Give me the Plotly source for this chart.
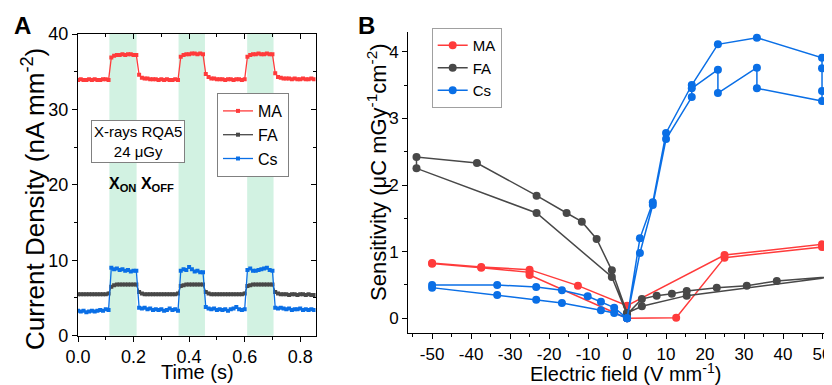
import plotly.graph_objects as go

# ---------------- Panel A data (time traces) ----------------
time_s = [0.00, 0.01, 0.02, 0.03, 0.04, 0.05, 0.06, 0.07, 0.08, 0.09,
          0.10, 0.11, 0.12, 0.13, 0.14, 0.15, 0.16, 0.17, 0.18, 0.19,
          0.20, 0.21, 0.22, 0.23, 0.24, 0.25, 0.26, 0.27, 0.28, 0.29,
          0.30, 0.31, 0.32, 0.33, 0.34, 0.35, 0.36, 0.37, 0.38, 0.39,
          0.40, 0.41, 0.42, 0.43, 0.44, 0.45, 0.46, 0.47, 0.48, 0.49,
          0.50, 0.51, 0.52, 0.53, 0.54, 0.55, 0.56, 0.57, 0.58, 0.59,
          0.60, 0.61, 0.62, 0.63, 0.64, 0.65, 0.66, 0.67, 0.68, 0.69,
          0.70, 0.71, 0.72, 0.73, 0.74, 0.75, 0.76, 0.77, 0.78, 0.79,
          0.80, 0.81, 0.82, 0.83, 0.84, 0.85]

ma_current = [33.9, 34.0, 33.9, 33.9, 34.0, 33.9, 34.0, 33.9, 33.9, 34.0, 34.0, 33.9,
              36.9, 37.1, 37.2, 37.2, 37.3, 37.2, 37.3, 37.3, 37.2, 37.2,
              34.6, 34.2, 34.1, 34.1, 34.0, 34.0, 34.0, 33.9, 34.0, 33.9, 34.0, 33.9, 33.9, 34.0, 33.9,
              37.0, 37.2, 37.3, 37.3, 37.4, 37.4, 37.3, 37.4, 37.3,
              34.7, 34.3, 34.1, 34.1, 34.0, 34.0, 34.0, 33.9, 34.0, 34.0, 33.9, 34.0, 34.0, 33.9, 34.0,
              37.0, 37.2, 37.3, 37.3, 37.4, 37.3, 37.3, 37.4, 37.3, 37.3,
              34.8, 34.3, 34.2, 34.1, 34.1, 34.1, 34.0, 34.1, 34.0, 34.0, 34.1, 34.0, 34.0, 34.1, 34.0]

fa_current = [5.5, 5.5, 5.5, 5.5, 5.5, 5.5, 5.5, 5.5, 5.5, 5.5, 5.5, 5.6,
              6.5, 6.7, 6.8, 6.8, 6.8, 6.8, 6.8, 6.8, 6.8, 6.8,
              5.8, 5.6, 5.5, 5.5, 5.5, 5.5, 5.5, 5.5, 5.5, 5.5, 5.5, 5.5, 5.5, 5.5, 5.6,
              6.6, 6.7, 6.8, 6.8, 6.8, 6.8, 6.8, 6.8, 6.8,
              5.8, 5.6, 5.5, 5.5, 5.5, 5.5, 5.5, 5.5, 5.5, 5.5, 5.5, 5.5, 5.5, 5.5, 5.6,
              6.6, 6.7, 6.8, 6.8, 6.8, 6.8, 6.8, 6.8, 6.8, 6.8,
              5.8, 5.6, 5.5, 5.5, 5.5, 5.4, 5.5, 5.5, 5.4, 5.5, 5.5, 5.4, 5.5, 5.4, 5.4]

cs_current = [3.3, 3.2, 3.3, 3.1, 3.2, 3.3, 3.2, 3.3, 3.4, 3.3, 3.5, 3.4,
              9.0, 8.8, 8.9, 8.7, 8.8, 8.6, 8.7, 8.5, 8.6, 8.6,
              3.7, 3.6, 3.7, 3.5, 3.6, 3.4, 3.5, 3.4, 3.5, 3.3, 3.4, 3.6, 3.4, 3.5, 3.3,
              8.6, 8.8, 8.7, 9.1, 8.8, 8.5, 8.6, 8.4, 8.4,
              3.8, 3.6, 3.5, 3.6, 3.4, 3.5, 3.4, 3.5, 3.3, 3.5, 3.6, 3.8, 3.5, 3.4, 3.5,
              8.7, 8.9, 8.6, 8.6, 8.7, 8.8, 8.9, 9.0, 8.7, 8.6,
              3.7, 3.6, 3.7, 3.6, 3.5, 3.6, 3.4, 3.5, 3.5, 3.6, 3.4, 3.5, 3.4, 3.5, 3.4]

xray_on = [0.113, 0.362, 0.609]
xray_off = [0.211, 0.457, 0.704]

# ---------------- Panel B data (sensitivity vs field) ----------------
ma_field = [0, 12.6, 25, 50, 50, 25, 0, -12.6, -25, -37.4, -50, -50, -37.4, -25, -25, 0]
ma_sens = [0.0, 0.01, 0.91, 1.07, 1.11, 0.95, 0.19, 0.49, 0.73, 0.77, 0.83, 0.82, 0.76, 0.69, 0.65, 0.0]

fa_field = [0, -3.9, -7.8, -11.6, -15.5, -23.2, -38.5, -54, -54, -23.2, -3.9, 0,
            3.8, 7.6, 11.5, 15.3, 23.0, 30.7, 38.4, 54, 54, 15.3, 3.8, 0]
fa_sens = [0.08, 0.72, 1.19, 1.45, 1.58, 1.84, 2.33, 2.42, 2.25, 1.58, 0.62, 0.06,
           0.29, 0.34, 0.37, 0.41, 0.46, 0.49, 0.56, 0.63, 0.63, 0.34, 0.18, 0.08]

cs_field = [0, 3.3, 6.6, 10, 16.6, 23.3, 33.3, 50, 50, 50, 50, 33.3, 33.3, 23.3, 23.3,
            16.6, 16.6, 10, 6.6, 3.3, 0,
            -3.3, -6.7, -10.1, -16.7, -23.3, -33.3, -50, -50, -33.3, -23.3, -16.7, -6.7, -3.3, 0]
cs_sens = [0.0, 1.20, 1.74, 2.78, 3.50, 4.11, 4.21, 3.91, 3.75, 3.41, 3.26, 3.45, 3.76, 3.38, 3.73,
           3.45, 3.32, 2.69, 1.70, 0.98, 0.0,
           0.16, 0.25, 0.33, 0.42, 0.47, 0.50, 0.50, 0.46, 0.35, 0.28, 0.23, 0.12, 0.08, 0.0]

b_xtick_vals = [-50, -40, -30, -20, -10, 0, 10, 20, 30, 40, 50]
b_xtick_text = ["-50", "-40", "-30", "-20", "-10", "0", "10", "20", "30", "40", "50"]

names = ["MA", "FA", "Cs"]
colors = ["#ff3b3b", "#484848", "#0a6fe6"]
FONT = "Liberation Sans, Arial, sans-serif"

# the page body keeps an 8px margin; the figure fills the rest of the 832x385 window
OFF = 8
W, H = 832 - OFF, 385 - OFF


def px(x):
    return (x - OFF) / W


def py(y):
    return 1 - (y - OFF) / H


fig = go.Figure()

# Panel A traces
for name, ys, col in zip(names, [ma_current, fa_current, cs_current], colors):
    fig.add_trace(go.Scatter(x=time_s, y=ys, mode="lines+markers", name=name,
                             line=dict(color=col, width=1.3),
                             marker=dict(symbol="square", size=4, color=col),
                             xaxis="x", yaxis="y", legend="legend"))

# empty trace so mirrored tick axes are drawn
fig.add_trace(go.Scatter(x=[None], y=[None], xaxis="x3", yaxis="y3",
                         showlegend=False, hoverinfo="skip"))

# Panel B traces
for name, xs, ys, col in zip(names, [ma_field, fa_field, cs_field],
                             [ma_sens, fa_sens, cs_sens], colors):
    fig.add_trace(go.Scatter(x=xs, y=ys, mode="lines+markers", name=name,
                             line=dict(color=col, width=1.5),
                             marker=dict(symbol="circle", size=8, color=col),
                             xaxis="x2", yaxis="y2", legend="legend2"))

# X-ray on bands
shapes = []
for x0, x1 in zip(xray_on, xray_off):
    shapes.append(dict(type="rect", xref="x", yref="y domain", x0=x0, x1=x1, y0=0, y1=1,
                       fillcolor="#d2f2e2", line=dict(width=0), layer="below"))

A_XD = [px(78), px(315.5)]
A_YD = [py(335.7), py(34)]
B_XD = [px(408.3), 1.0]
B_YD = [py(333.3), py(31.7)]

axis_common = dict(showline=True, linecolor="black", linewidth=1.3, showgrid=False,
                   zeroline=False, ticks="outside", ticklen=5, tickcolor="black",
                   tickwidth=1.2, automargin=False, ticklabeloverflow="allow")


def tickfont(size):
    return dict(family=FONT, size=size, color="black")


def ann(text, x, y, size, angle=0, **kw):
    d = dict(text=text, x=px(x), y=py(y), xref="paper", yref="paper",
             xanchor="center", yanchor="middle", showarrow=False, textangle=angle,
             font=dict(family=FONT, size=size, color="black"))
    d.update(kw)
    return d


annotations = [
    ann("<b>A</b>", 22, 25, 24),
    ann("<b>B</b>", 366, 25, 24),
    ann("Current Density (nA mm<sup>-2</sup>)", 34, 199, 26, angle=-90),
    ann("Time (s)", 197, 372, 20),
    ann("Electric field (V mm<sup>-1</sup>)", 625.5, 372, 20),
    ann("Sensitivity (μC mGy<sup>-1</sup>cm<sup>-2</sup>)", 377, 172, 22, angle=-90),
    ann("X-rays RQA5<br>24 μGy", 138, 141.5, 15, bordercolor="#808080", borderwidth=1,
        bgcolor="white", borderpad=2),
    ann("<b>X<sub>ON</sub> X<sub>OFF</sub></b>", 141, 184, 16),
]

fig.update_layout(
    width=W, height=H, margin=dict(l=0, r=0, t=0, b=0, pad=0, autoexpand=False),
    paper_bgcolor="white", plot_bgcolor="white",
    font=dict(family=FONT, color="black"),
    shapes=shapes, annotations=annotations,
    xaxis=dict(domain=A_XD, range=[0, 0.855], anchor="y", dtick=0.2, tick0=0,
               tickformat=".1f", mirror=True, tickfont=tickfont(18),
               minor=dict(dtick=0.1, ticks="outside", ticklen=3, tickcolor="black"),
               **axis_common),
    yaxis=dict(domain=A_YD, range=[0, 40], anchor="x", dtick=10, tick0=0, mirror=True,
               tickfont=tickfont(18),
               minor=dict(dtick=5, ticks="outside", ticklen=3, tickcolor="black"),
               **axis_common),
    xaxis3=dict(overlaying="x", side="top", anchor="y", range=[0, 0.855], dtick=0.2, tick0=0,
                showticklabels=False, showline=False, showgrid=False, zeroline=False,
                ticks="inside", ticklen=5, tickcolor="black", tickwidth=1.2, automargin=False,
                minor=dict(dtick=0.1, ticks="inside", ticklen=3, tickcolor="black")),
    yaxis3=dict(overlaying="y", side="right", anchor="x", range=[0, 40], dtick=10, tick0=0,
                showticklabels=False, showline=False, showgrid=False, zeroline=False,
                ticks="inside", ticklen=5, tickcolor="black", tickwidth=1.2, automargin=False,
                minor=dict(dtick=5, ticks="inside", ticklen=3, tickcolor="black")),
    xaxis2=dict(domain=B_XD, range=[-56.1, 52.56], anchor="y2",
                tickvals=b_xtick_vals, ticktext=b_xtick_text, tickfont=tickfont(17),
                minor=dict(dtick=5, tick0=0, ticks="outside", ticklen=3, tickcolor="black"),
                **axis_common),
    yaxis2=dict(domain=B_YD, range=[-0.225, 4.3], anchor="x2", dtick=1, tick0=0,
                tickfont=tickfont(17),
                minor=dict(dtick=0.5, ticks="outside", ticklen=3, tickcolor="black"),
                **axis_common),
    legend=dict(x=px(217), y=py(93), xanchor="left", yanchor="top",
                bordercolor="#808080", borderwidth=1, bgcolor="white",
                font=dict(family=FONT, size=16, color="black"), tracegroupgap=0,
                itemwidth=30),
    legend2=dict(x=px(431.7), y=py(28), xanchor="left", yanchor="top",
                 bordercolor="#a0a0a0", borderwidth=1, bgcolor="white",
                 font=dict(family=FONT, size=15, color="black"), tracegroupgap=0,
                 itemwidth=30),
)

fig.write_html("out.html")
